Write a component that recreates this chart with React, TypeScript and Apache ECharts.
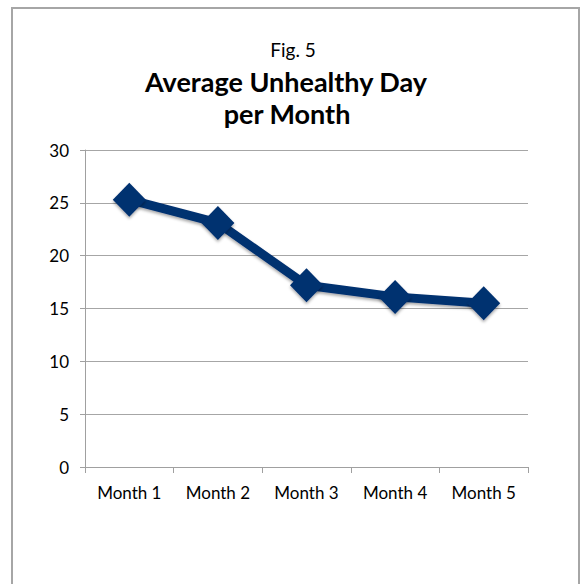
import React, { useEffect, useRef } from "react";
import * as echarts from "echarts";

const categories = ["Month 1", "Month 2", "Month 3", "Month 4", "Month 5"];
const values = [25.3, 23.1, 17.2, 16.1, 15.5];
const figLabel = "Fig. 5";
const titleLines = ["Average Unhealthy Day", "per Month"];

export default function App() {
  const ref = useRef<HTMLDivElement>(null);
  useEffect(() => {
    if (!ref.current) return;
    const chart = echarts.init(ref.current, null, { renderer: "svg" });
    const font = "Lato, 'Open Sans', sans-serif";
    chart.setOption({
      animation: false,
      backgroundColor: "#ffffff",
      textStyle: { fontFamily: font },
      grid: { left: 85, right: 56, top: 150, bottom: 117, containLabel: false },
      graphic: [
        {
          type: "rect",
          shape: { x: 12, y: 8, width: 567, height: 600 },
          style: { fill: "none", stroke: "#a6a6a6", lineWidth: 2 },
          silent: true,
        },
        {
          type: "text",
          x: 293,
          y: 49,
          style: { text: figLabel, font: `19px ${font}`, fill: "#000", textAlign: "center", textVerticalAlign: "middle" },
        },
        {
          type: "text",
          x: 286,
          y: 81,
          style: { text: titleLines[0], font: `bold 27px ${font}`, fill: "#000", textAlign: "center", textVerticalAlign: "middle" },
        },
        {
          type: "text",
          x: 287,
          y: 113,
          style: { text: titleLines[1], font: `bold 27px ${font}`, fill: "#000", textAlign: "center", textVerticalAlign: "middle" },
        },
      ],
      xAxis: {
        type: "category",
        data: categories,
        boundaryGap: true,
        axisLine: { lineStyle: { color: "#a0a0a0", width: 1 } },
        axisTick: { show: true, length: 6, lineStyle: { color: "#a0a0a0" } },
        axisLabel: { color: "#000", fontSize: 17, margin: 17, fontFamily: font },
        splitLine: { show: false },
      },
      yAxis: {
        type: "value",
        min: 0,
        max: 30,
        interval: 5,
        axisLine: { show: true, lineStyle: { color: "#a0a0a0", width: 1 } },
        axisTick: { show: true, length: 5, lineStyle: { color: "#a0a0a0" } },
        axisLabel: { color: "#000", fontSize: 17, margin: 16, fontFamily: font },
        splitLine: { show: true, lineStyle: { color: "#a6a6a6", width: 1 } },
      },
      series: [
        {
          type: "line",
          data: values,
          symbol: "diamond",
          symbolSize: [33, 34],
          lineStyle: {
            color: "#003070",
            width: 9,
            shadowColor: "rgba(0,0,0,0.35)",
            shadowBlur: 3,
            shadowOffsetY: 2,
          },
          itemStyle: {
            color: "#003070",
            shadowColor: "rgba(0,0,0,0.35)",
            shadowBlur: 3,
            shadowOffsetY: 2,
          },
        },
      ],
    });
    return () => chart.dispose();
  }, []);
  return (
    <div
      ref={ref}
      style={{ position: "fixed", left: 0, top: 0, width: 584, height: 584 }}
    />
  );
}
